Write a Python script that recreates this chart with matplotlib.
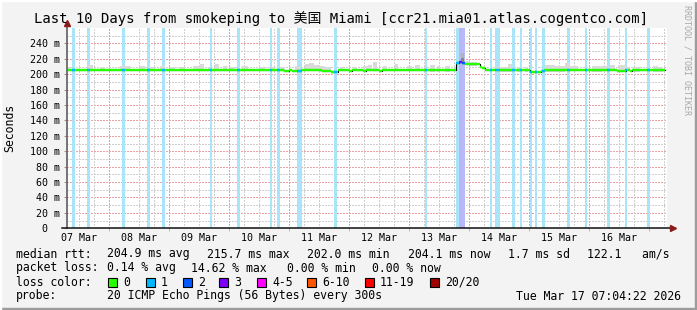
import numpy as np
import matplotlib.pyplot as plt
from matplotlib.patches import Rectangle

plt.rcParams["lines.scale_dashes"] = False

# x values are hours counted from 07 Mar 00:00 (graph covers 10 days up to 17 Mar 07:04)
t_start = 7.07
t_end = 247.07

# median rtt (ms) as a step series: med_vals[i] holds from med_edges[i] to med_edges[i+1]
med_edges = [7.07, 93.7, 95.7, 96.9, 98.9, 100.5, 101.7, 108.9, 112.5, 115.3,
             119.7, 120.9, 125.3, 126.5, 131.7, 132.9, 138.5, 150.9, 162.5, 163.7,
             164.9, 166.1, 168.1, 172.1, 172.9, 174.1, 176.1, 184.5, 185.7, 188.1,
             189.3, 192.1, 196.5, 197.7, 204.5, 210.5, 220.5, 226.9, 230.5, 232.1,
             232.9, 246.1]
med_vals = [205.5, 204.3, 205.3, 204.3, 204.0, 205.0, 205.5, 203.8, 202.5, 205.2,
            204.3, 205.2, 204.3, 205.2, 204.3, 205.2, 205.6, 205.0, 214.0, 215.7,
            214.5, 213.5, 212.8, 210.0, 207.5, 205.5, 205.0, 205.5, 205.0, 205.8,
            205.0, 203.0, 204.0, 205.0, 205.3, 205.0, 205.5, 204.5, 205.2, 204.2,
            205.0]

# packet loss periods (loss level: 1 = 1/20, 2 = 2/20, 3 = 3/20)
loss_start = [8.9, 14.9, 28.9, 38.9, 44.9, 64.1, 74.9, 88.1, 90.9, 98.9, 113.7, 150.1,
              162.5, 163.7, 164.9,
              176.1, 178.1, 184.9, 188.1, 192.1, 194.1, 196.9, 206.9, 214.1, 222.9, 230.1, 238.9]
loss_end = [10.1, 16.1, 30.1, 40.1, 46.1, 65.0, 76.1, 88.9, 92.1, 100.9, 114.9, 150.9,
            163.7, 164.9, 166.1,
            176.9, 180.1, 186.1, 188.9, 192.9, 194.9, 198.1, 208.1, 214.9, 224.1, 230.9, 240.1]
loss_level = [1] * 12 + [1, 3, 2] + [1] * 12

# smoke (spread of the pings) above the median
smoke_start = [7.07, 15.5, 20.3, 28.3, 36.3, 40.3, 44.3, 48.3, 52.3, 57.5,
               60.3, 63.5, 66.3, 69.5, 72.3, 77.1, 84.3, 88.3, 92.3, 98.3,
               102.3, 104.0, 106.0, 108.3, 110.3, 116.3, 121.5, 125.5, 127.5, 129.5,
               133.5, 138.3, 143.1, 146.3, 152.3, 155.1, 158.3, 166.3, 168.3, 178.3,
               183.5, 187.1, 190.3, 198.3, 202.3, 206.3, 208.3, 217.1, 221.1, 224.3,
               227.5, 230.3, 233.5, 241.5, 243.5]
smoke_end = [8.3, 17.5, 22.3, 32.3, 38.3, 42.3, 46.3, 50.3, 54.3, 60.3,
             61.9, 64.3, 67.9, 71.1, 74.3, 79.5, 86.3, 90.3, 94.3, 100.3,
             104.0, 106.0, 108.3, 110.3, 112.7, 117.5, 123.1, 127.5, 129.1, 131.1,
             135.1, 139.5, 145.1, 148.3, 154.3, 156.3, 160.3, 168.3, 171.1, 183.5,
             185.1, 188.3, 191.5, 202.3, 206.3, 208.3, 211.5, 221.1, 223.1, 226.3,
             230.3, 232.3, 236.3, 243.5, 245.5]
smoke_top = [209, 212, 209, 211, 210.5, 209, 210.5, 209, 209, 211,
             213, 209, 213, 210.5, 209, 210.5, 209, 209, 209, 210.5,
             213, 214.5, 212, 210.5, 209, 209, 209, 210.5, 212, 216,
             210.5, 213, 210.5, 212, 212, 210.5, 210.5, 217, 216, 209,
             213, 209, 209, 212, 210.5, 214.5, 210.5, 210.5, 210.5, 212,
             212, 209, 209, 210.5, 209]

# the tall dark smoke column during the loss spike
spike_start = [164.7, 164.7]
spike_end = [166.0, 166.0]
spike_lo = [214, 221]
spike_hi = [221, 228]

y_ticks = list(range(0, 241, 20))
y_labels = ["0  "] + [f"{v} m" for v in y_ticks[1:]]
day_labels = ["07 Mar", "08 Mar", "09 Mar", "10 Mar", "11 Mar",
              "12 Mar", "13 Mar", "14 Mar", "15 Mar", "16 Mar"]

legend_colors = ["#26ff00", "#00b8ff", "#0059ff", "#7e00ff", "#ff00ff",
                 "#ff5500", "#ff0000", "#a10000"]
legend_names = ["0", "1", "2", "3", "4-5", "6-10", "11-19", "20/20"]

line_col = {0: "#26ff00", 1: "#00b8ff", 2: "#0059ff", 3: "#7e00ff"}
bar_col = {1: "#aae4f9", 2: "#b6baf6", 3: "#b9b6f6"}

W, H = 697, 310
MONO = "DejaVu Sans Mono"
fig = plt.figure(figsize=(W / 100, H / 100), dpi=100, facecolor="#f3f3f3")
ax = fig.add_axes([67 / W, (H - 228.3) / H, 600 / W, 200.3 / H])
ax.set_xlim(t_start, t_end)
ax.set_ylim(0, 260)
ax.set_facecolor("white")
for s in ax.spines.values():
    s.set_visible(False)

# dotted grid
dots = (0, (1.44, 1.44))
minor_c = "#cfcfcf"
major_c = "#f0a0a0"
for v in range(10, 260, 20):
    ax.axhline(v, color=minor_c, lw=0.72, ls=dots, antialiased=False, zorder=1)
for v in range(20, 260, 20):
    ax.axhline(v, color=major_c, lw=0.72, ls=dots, antialiased=False, zorder=1)
for h in range(6, 248, 6):
    ax.axvline(h, color=major_c if h % 24 == 0 else minor_c, lw=0.72, ls=dots,
               antialiased=False, zorder=1)

# loss bars
ls_ = np.array(loss_start)
le_ = np.array(loss_end)
ax.bar(ls_, 260, width=le_ - ls_, align="edge", linewidth=0,
       color=[bar_col[l] for l in loss_level], zorder=2)

edges = np.array(med_edges)
vals = np.array(med_vals)


def med_at(t):
    i = np.clip(np.searchsorted(edges, t, side="right") - 1, 0, len(vals) - 1)
    return vals[i]


# smoke
ss = np.array(smoke_start)
se = np.array(smoke_end)
bottoms = np.array([med_at((a + b) / 2) - 1.5 for a, b in zip(ss, se)])
ax.bar(ss, np.array(smoke_top) - bottoms, width=se - ss, bottom=bottoms, align="edge",
       color="#dadada", linewidth=0, zorder=3)
ax.bar(spike_start, np.array(spike_hi) - np.array(spike_lo),
       width=np.array(spike_end) - np.array(spike_start), bottom=spike_lo, align="edge",
       color=["#868686", "#b2b2b2"], linewidth=0, zorder=3)

# median line
ax.step(edges, np.append(vals, vals[-1]), where="post", color="black", lw=0.8, zorder=4)
ax.hlines(vals, edges[:-1], edges[1:], colors=line_col[0], lw=1.7, zorder=5)
for a, b, l in zip(loss_start, loss_end, loss_level):
    ax.hlines(med_at((a + b) / 2), a, b, colors=line_col[l], lw=1.7, zorder=6)

# axes with arrows
ax.plot([t_start, t_start], [0, 266], color="#6a6a6a", lw=1.3, clip_on=False, zorder=7)
ax.plot(t_start, 267, marker="^", ms=4, color="#8b1a1a", clip_on=False, zorder=8)
ax.plot([t_start - 2, t_end + 1.5], [0, 0], color="#111111", lw=1.1, clip_on=False, zorder=7)
ax.plot(t_end + 2.2, 0, marker=">", ms=4, color="#8b1a1a", clip_on=False, zorder=8)

ax.set_yticks(y_ticks)
ax.set_yticklabels(y_labels, family=MONO, fontsize=7.2)
ax.tick_params(axis="y", length=2, color="#999999", pad=3)
ax.set_xticks(range(24, 241, 24))
ax.set_xticklabels([])
ax.tick_params(axis="x", length=2.5, width=0.7, color="#f0a3a3")
for i, lab in enumerate(day_labels):
    ax.text(12 + 24 * i, -0.047, lab, transform=ax.get_xaxis_transform(),
            ha="center", va="center", family=MONO, fontsize=7.2)


def ft(x, y, s, **kw):
    fig.text(x / W, 1 - y / H, s, va="center", **kw)


ft(10, 128, "Seconds", ha="center", rotation=90, family=MONO, fontsize=8.3)
ft(341, 19, "Last 10 Days from smokeping to 美国 Miami [ccr21.mia01.atlas.cogentco.com]",
   ha="center", family=[MONO, "Noto Sans CJK SC"], fontsize=10)
ft(687, 60, "RRDTOOL / TOBI OETIKER", ha="center", rotation=270,
   family=MONO, fontsize=6, color="#a8a8a8")

LF = 8.3
for txt, x in [("median rtt:", 16), ("204.9 ms avg", 107), ("215.7 ms max", 207),
               ("202.0 ms min", 307), ("204.1 ms now", 408), ("1.7 ms sd", 508),
               ("122.1   am/s", 587)]:
    ft(x, 254, txt, ha="left", family=MONO, fontsize=LF)
for txt, x in [("packet loss:", 16), ("0.14 % avg", 107), ("14.62 % max", 191),
               ("0.00 % min", 287), ("0.00 % now", 372)]:
    ft(x, 268, txt, ha="left", family=MONO, fontsize=LF)
ft(16, 282, "loss color:", ha="left", family=MONO, fontsize=LF)
box_x = [108, 146, 183, 219, 257, 307, 365, 430]
for bx, c, name in zip(box_x, legend_colors, legend_names):
    fig.add_artist(Rectangle((bx / W, 1 - 286.5 / H), 8.5 / W, 8.5 / H,
                             transform=fig.transFigure, facecolor=c,
                             edgecolor="black", lw=0.8))
    ft(bx + 15, 282, name, ha="left", family=MONO, fontsize=LF)
ft(16, 296, "probe:", ha="left", family=MONO, fontsize=LF)
ft(107, 296, "20 ICMP Echo Pings (56 Bytes) every 300s", ha="left", family=MONO, fontsize=LF)
ft(681, 296, "Tue Mar 17 07:04:22 2026", ha="right", family=MONO, fontsize=LF)

# image border
fig.add_artist(Rectangle((0, 0), 1, 2 / H, transform=fig.transFigure, color="#9c9c9c"))
fig.add_artist(Rectangle((1 - 2 / W, 0), 2 / W, 1, transform=fig.transFigure, color="#9c9c9c"))
fig.add_artist(Rectangle((0, 1 - 1 / H), 1, 1 / H, transform=fig.transFigure, color="#ffffff"))
fig.add_artist(Rectangle((0, 0), 1 / W, 1, transform=fig.transFigure, color="#ffffff"))

fig.savefig("out.png", dpi=100, facecolor=fig.get_facecolor())
